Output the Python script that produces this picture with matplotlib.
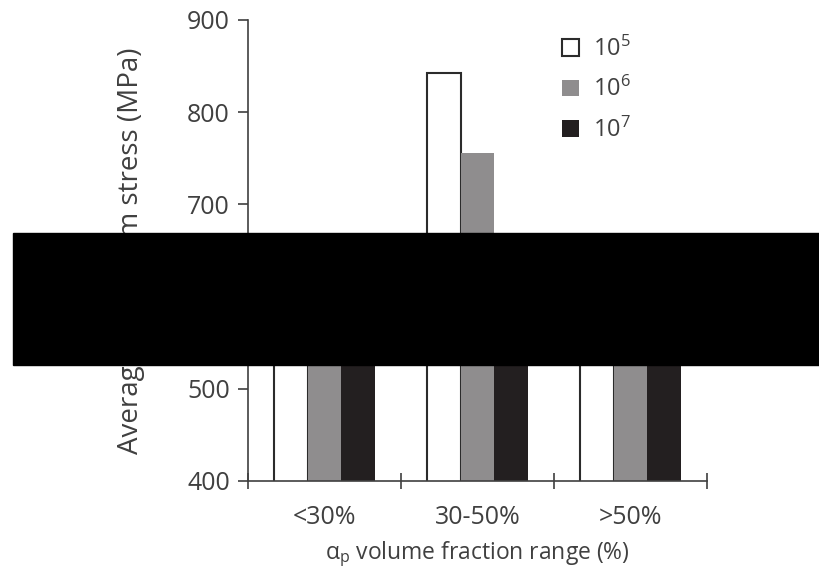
import numpy as np
import matplotlib.pyplot as plt
from matplotlib.patches import Rectangle

plt.rcParams['font.family'] = ['Open Sans', 'DejaVu Sans']
plt.rcParams['mathtext.fontset'] = 'custom'
plt.rcParams['mathtext.rm'] = 'Open Sans'
plt.rcParams['mathtext.it'] = 'Open Sans:italic'

# data (values behind the black box are estimates)
categories = ['<30%', '30-50%', '>50%']
series = ['10$^5$', '10$^6$', '10$^7$']
cycles_1e5 = [640, 842, 650]
cycles_1e6 = [615, 756, 625]
cycles_1e7 = [595, 669, 605]

txt = '#404040'
fig = plt.figure(figsize=(8.19, 5.77), dpi=100)
ax = fig.add_axes([248/819, 1 - 481/577, (707 - 248)/819, (481 - 20)/577])

x = np.arange(len(categories))
w = 0.222
ax.bar(x - w, cycles_1e5, w, color='white', edgecolor='#2b2b2b', linewidth=1.5, label=series[0])
ax.bar(x, cycles_1e6, w, color='#8f8d8e', label=series[1])
ax.bar(x + w, cycles_1e7, w, color='#231f20', label=series[2])

ax.set_xlim(-0.5, 2.5)
ax.set_ylim(400, 900)
ax.set_yticks([400, 500, 600, 700, 800, 900])
ax.set_xticks([-0.5, 0.5, 1.5, 2.5])
ax.set_xticklabels([])
ax.set_xticks(x, minor=True)
ax.set_xticklabels(categories, minor=True)
ax.tick_params(axis='x', which='major', direction='inout', length=12, width=1.2, color=txt)
ax.tick_params(axis='x', which='minor', length=0, pad=17, labelsize=18, labelcolor=txt)
ax.tick_params(axis='y', direction='out', length=7, width=1.2, color=txt, labelsize=18, labelcolor=txt, pad=6)

for s in ['top', 'right']:
    ax.spines[s].set_visible(False)
for s in ['left', 'bottom']:
    ax.spines[s].set_color(txt)
    ax.spines[s].set_linewidth(1.2)

ax.set_ylabel('Average maximum stress (MPa)', fontsize=20, color=txt, labelpad=30)
ax.set_xlabel(r'α$_\mathrm{p}$ volume fraction range (%)', fontsize=16.5, color=txt, labelpad=7)

leg = ax.legend(loc='upper right', bbox_to_anchor=(0.88, 1.01), frameon=False, fontsize=17,
                handlelength=0.7, handleheight=0.7, labelspacing=0.65, handletextpad=0.6)
for t in leg.get_texts():
    t.set_color(txt)

# black box covering the middle of the figure
fig.add_artist(Rectangle((13/819, 1 - 365/577), 806/819, 132/577,
                         transform=fig.transFigure, color='black', zorder=10))

fig.savefig('out.png', dpi=100)
